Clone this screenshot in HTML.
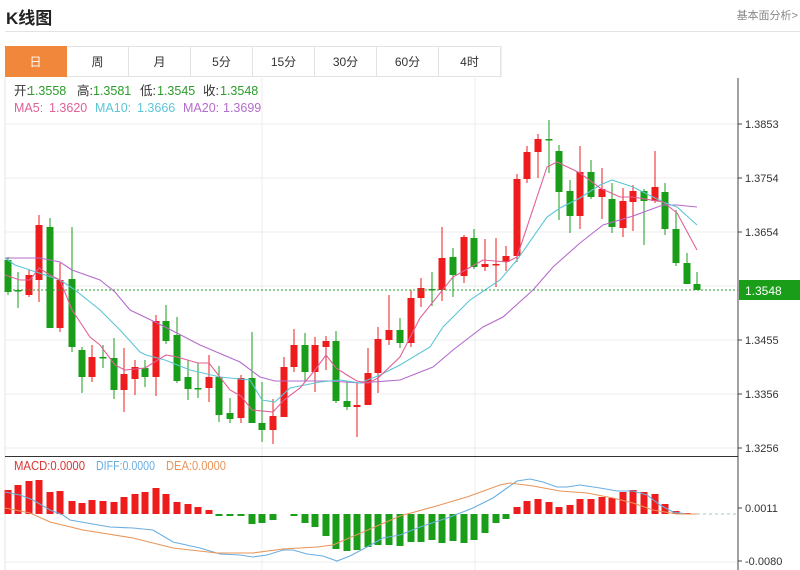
<!DOCTYPE html>
<html><head><meta charset="utf-8"><style>
html,body{margin:0;padding:0;background:#fff;width:800px;height:570px;overflow:hidden;font-family:"Liberation Sans","Noto Sans CJK SC",sans-serif}
#t{position:absolute;left:6px;top:4px;font-size:17px;font-weight:bold;color:#222}
#r{position:absolute;right:2px;top:7px;font-size:11px;color:#888}
#hl{position:absolute;left:5px;top:31px;width:795px;height:1px;background:#e3e3e3}
.tab{position:absolute;top:46px;height:31px;line-height:31px;text-align:center;font-size:12px;color:#333;border-right:1px solid #e3e3e3;border-top:1px solid #e3e3e3;border-bottom:1px solid #e3e3e3;box-sizing:border-box}
svg{position:absolute;left:0;top:0}
</style></head><body>
<div id="t">K线图</div><div id="r">基本面分析&gt;</div><div id="hl"></div>
<div class="tab" style="left:5px;width:62px;background:#f0873a;color:#fff;border-color:#f0873a">日</div>
<div class="tab" style="left:67px;width:62px">周</div>
<div class="tab" style="left:129px;width:62px">月</div>
<div class="tab" style="left:191px;width:62px">5分</div>
<div class="tab" style="left:253px;width:62px">15分</div>
<div class="tab" style="left:315px;width:62px">30分</div>
<div class="tab" style="left:377px;width:62px">60分</div>
<div class="tab" style="left:439px;width:62px">4时</div>
<svg id="s" width="800" height="570" xmlns="http://www.w3.org/2000/svg" font-family="Liberation Sans, Noto Sans CJK SC, sans-serif"></svg>
<script>
var s=document.getElementById('s'),h='';
function L(x1,y1,x2,y2,c,w,d){h+='<line x1="'+x1+'" y1="'+y1+'" x2="'+x2+'" y2="'+y2+'" stroke="'+c+'" stroke-width="'+(w||1)+'"'+(d?' stroke-dasharray="'+d+'"':'')+'/>';}
function P(pts,c){h+='<polyline fill="none" stroke="'+c+'" stroke-width="1.1" points="'+pts.map(function(p){return p.join(',')}).join(' ')+'"/>';}
function T(x,y,t,c,tl){h+='<text x="'+x+'" y="'+y+'" font-size="12.5" fill="'+c+'"'+(tl?' textLength="'+tl+'" lengthAdjust="spacingAndGlyphs"':'')+'>'+t+'</text>';}
L(5,78,5,570,'#e5e5e5');L(501,46,501,78,'#e5e5e5');
[124,178,232,286,340,394,448].forEach(function(y){L(5,y,738,y,'#ececec');});
L(5,562,738,562,'#ececec');
L(262,78,262,570,'#ececec');L(475,78,475,570,'#ececec');
L(738,78,738,570,'#444');L(5,456.5,738,456.5,'#333');
var tk=[[124,'1.3853'],[178,'1.3754'],[232,'1.3654'],[340,'1.3455'],[394,'1.3356'],[448,'1.3256'],[508,'0.0011'],[561,'-0.0080']];
tk.forEach(function(t){L(738,t[0],742,t[0],'#444');h+='<text x="745" y="'+(t[0]+4)+'" font-size="11" fill="#333">'+t[1]+'</text>';});
var C=[[8,260,292,257,295],[18,290,291,272,308],[29,295,275,270,297],[39,280,225,215,302],[50,227,328,218,328],[60,328,280,263,332],[72,279,347,227,352],[82,350,377,347,393],[92,377,357,345,382],[103,357,358,345,368],[114,358,390,338,399],[124,390,374,348,412],[135,379,367,360,395],[145,368,377,360,387],[156,377,321,315,396],[166,321,341,305,344],[177,335,381,317,383],[188,377,389,360,400],[198,388,389,363,398],[209,388,377,355,402],[219,377,415,366,422],[230,413,419,398,423],[241,418,378,375,423],[252,378,423,332,423],[262,423,430,382,442],[273,430,416,399,444],[284,417,367,357,417],[294,367,345,329,372],[305,345,372,333,382],[315,372,345,337,392],[326,347,341,336,370],[336,341,401,331,403],[347,401,407,382,410],[357,407,405,382,437],[368,405,373,348,405],[378,373,339,327,393],[389,340,330,295,345],[400,330,343,318,348],[411,343,298,290,347],[421,298,288,278,307],[432,289,290,272,306],[442,290,258,227,301],[453,257,275,248,297],[464,276,237,235,283],[474,238,267,229,269],[485,267,264,239,271],[496,265,264,238,287],[506,262,256,246,271],[517,256,179,174,262],[527,179,152,146,183],[538,152,139,134,178],[549,139,140,120,173],[559,151,192,145,220],[570,191,216,180,233],[580,216,172,146,229],[591,172,197,160,199],[602,197,189,168,219],[612,199,227,183,233],[623,228,201,188,237],[633,202,191,185,231],[644,191,201,189,245],[655,201,187,151,203],[665,192,229,183,235],[676,229,263,210,266],[687,263,284,253,284],[697,284,290,272,290]];
var R='#ee1c1c',G='#1a9e1a';
C.forEach(function(c){var up=c[2]<c[1],col=up?R:G,t=Math.min(c[1],c[2]),b=Math.max(c[1],c[2]);if(b-t<1.5)b=t+1.5;
L(c[0],c[3],c[0],c[4],col);h+='<rect x="'+(c[0]-3.5)+'" y="'+t+'" width="7" height="'+(b-t)+'" fill="'+col+'"/>';});
P([[5,258],[18,258],[40,258],[60,262],[72,270],[100,280],[115,292],[130,310],[155,322],[175,332],[200,345],[240,362],[260,377],[275,381],[330,381],[360,383],[400,380],[433,367],[453,350],[483,327],[503,317],[533,290],[553,267],[580,243],[603,225],[633,216],[663,205],[677,205],[697,207]],'#b56ccc');
P([[5,258],[15,265],[30,270],[45,275],[60,280],[75,290],[100,310],[120,330],[140,352],[146,355],[165,360],[190,370],[220,377],[250,380],[262,400],[275,402],[290,388],[320,382],[340,380],[360,383],[380,375],[400,365],[430,347],[443,327],[470,300],[500,280],[517,260],[547,217],[560,208],[580,198],[600,185],[612,180],[633,187],[663,202],[677,207],[697,225]],'#5cc6d6');
P([[5,275],[20,280],[30,280],[39,268],[50,275],[60,280],[72,310],[90,337],[100,345],[115,365],[125,370],[145,368],[166,355],[177,357],[198,363],[209,363],[230,390],[241,396],[252,410],[273,412],[284,400],[300,388],[315,370],[326,355],[336,368],[347,375],[357,381],[368,383],[378,378],[400,357],[420,318],[453,277],[483,260],[507,262],[517,257],[547,167],[557,162],[580,173],[600,188],[620,197],[633,197],[663,202],[677,213],[697,250]],'#e06098');
L(5,290,738,290,'#2a9d2a',1,'2,2');
h+='<rect x="739" y="280" width="61" height="20" fill="#1a9e1a"/><text x="745" y="295" font-size="12" fill="#fff">1.3548</text>';
var g='#2a9d2a',d='#333';
T(14,95,'开:',d);T(28,95,'1.3558',g);T(77,95,'高:',d);T(93,95,'1.3581',g);T(140,95,'低:',d);T(157,95,'1.3545',g);T(203,95,'收:',d);T(220,95,'1.3548',g);
T(14,112,'MA5:','#e06098');T(49,112,'1.3620','#e06098');T(95,112,'MA10:','#5cc6d6');T(137,112,'1.3666','#5cc6d6');T(183,112,'MA20:','#b56ccc');T(223,112,'1.3699','#b56ccc');
T(14,470,'MACD:0.0000','#d33',71);T(96,470,'DIFF:0.0000','#6aaee0',59);T(166,470,'DEA:0.0000','#e8955a',60);
var Z=514,B=[490,485,481,480,492,491,501,503,500,501,502,497,494,492,488,494,502,504,507,510,516,516,516,524,523,520,514,516,523,527,536,549,551,550,547,545,545,546,542,542,540,543,541,543,540,533,523,519,507,501,499,502,507,505,499,499,497,498,492,490,492,494,504,511,513,514];
B.forEach(function(v,i){var x=C[i][0],col=v<Z?R:G,t=Math.min(v,Z),b=Math.max(v,Z);if(b-t<0.5)return;h+='<rect x="'+(x-3.5)+'" y="'+t+'" width="7" height="'+(b-t)+'" fill="'+col+'"/>';});
L(697,514,738,514,'#9cc',1,'3,3');
P([[5,492],[20,495],[33,500],[50,510],[63,515],[70,520],[87,523],[110,527],[133,528],[153,530],[173,542],[200,548],[220,554],[240,555],[253,557],[267,555],[283,550],[293,550],[307,554],[323,556],[337,561],[350,556],[367,547],[383,538],[400,535],[420,527],[450,517],[473,508],[493,498],[507,488],[517,481],[530,479],[543,482],[557,487],[567,487],[580,485],[600,488],[617,491],[633,491],[647,495],[660,505],[673,512],[687,514],[697,514]],'#6aaee0');
P([[5,508],[30,513],[50,522],[83,530],[133,538],[173,548],[217,553],[253,553],[283,549],[317,547],[333,545],[400,516],[433,507],[467,497],[500,485],[510,483],[533,486],[560,491],[587,493],[613,498],[633,503],[653,510],[677,514],[697,514]],'#e8955a');
s.innerHTML=h;
</script>
</body></html>
